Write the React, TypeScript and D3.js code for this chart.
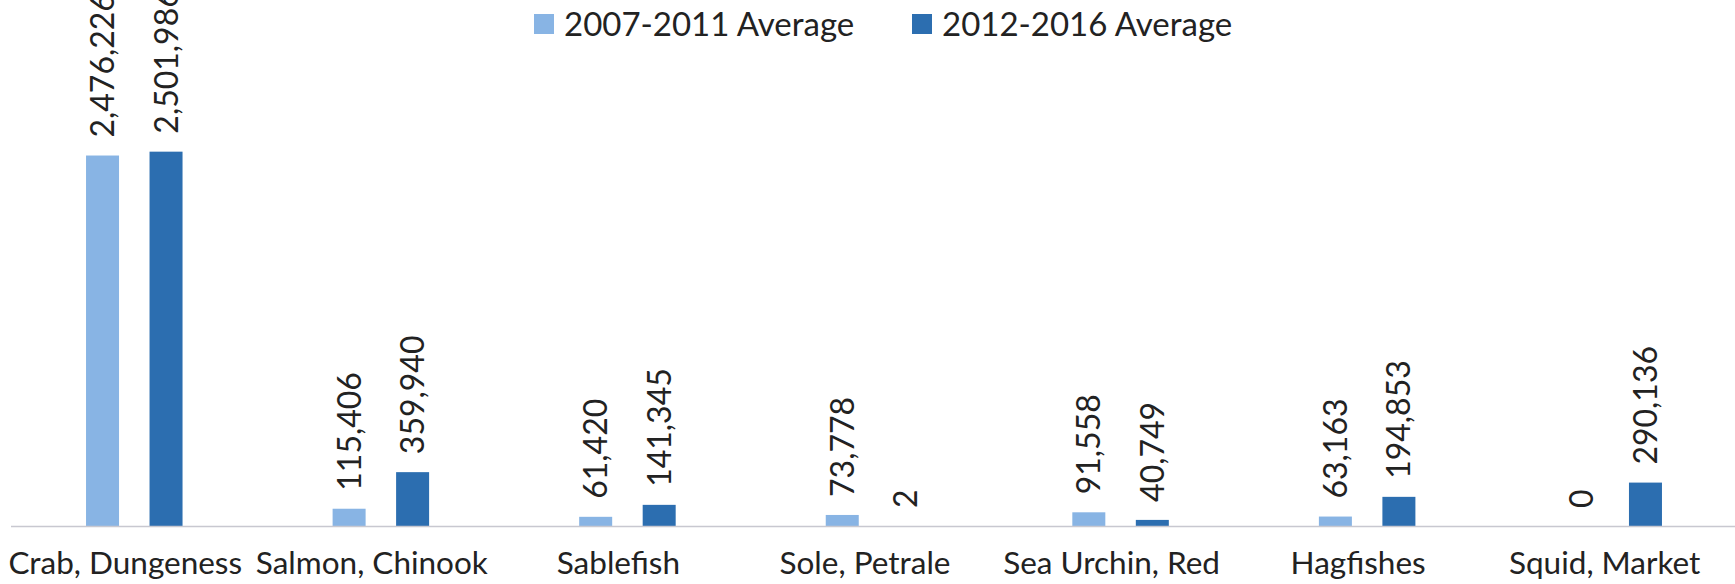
import React from "react";
import * as d3 from "d3";

const categories = [
  "Crab, Dungeness",
  "Salmon, Chinook",
  "Sablefish",
  "Sole, Petrale",
  "Sea Urchin, Red",
  "Hagfishes",
  "Squid, Market",
];
const avg2007_2011 = [2476226, 115406, 61420, 73778, 91558, 63163, 0];
const avg2012_2016 = [2501986, 359940, 141345, 2, 40749, 194853, 290136];
const seriesNames = ["2007-2011 Average", "2012-2016 Average"];
const seriesColors = ["#88B4E4", "#2C6EB0"];

const W = 1735;
const H = 584;
const FONT = "Lato, 'Open Sans', sans-serif";
const TEXT = "#222222";

export default function App() {
  const seriesValues = [avg2007_2011, avg2012_2016];
  const x0 = d3.scaleBand<string>().domain(categories).range([11, 1737]).padding(0);
  const x1 = d3.scalePoint<string>().domain(seriesNames).range([-31.75, 31.75]);
  const y = d3.scaleLinear().domain([0, 2600000]).range([526, 137]);
  const barW = 33;
  const fmt = d3.format(",");
  const legendX = [534, 912];

  return (
    <svg
      width={W}
      height={H}
      style={{ position: "absolute", left: 0, top: 0, background: "#fff" }}
      fontFamily={FONT}
    >
      <rect x={0} y={0} width={W} height={H} fill="#ffffff" />
      {/* bars */}
      {categories.map((c, i) => {
        const cx = (x0(c) as number) + x0.bandwidth() / 2;
        return (
          <g key={c}>
            {seriesNames.map((s, k) => {
              const v = seriesValues[k][i];
              const bx = cx + (x1(s) as number);
              return (
                <rect
                  key={s}
                  x={bx - barW / 2}
                  y={y(v)}
                  width={barW}
                  height={y(0) - y(v)}
                  fill={seriesColors[k]}
                />
              );
            })}
          </g>
        );
      })}
      {/* axis line */}
      <line x1={x0.range()[0]} x2={x0.range()[1]} y1={y(0) + 0.5} y2={y(0) + 0.5} stroke="#C8C8D0" strokeWidth={1.5} />
      {/* value labels */}
      {categories.map((c, i) => {
        const cx = (x0(c) as number) + x0.bandwidth() / 2;
        return seriesNames.map((s, k) => {
          const v = seriesValues[k][i];
          const bx = cx + (x1(s) as number);
          return (
            <text
              key={c + s}
              transform={`translate(${bx},${y(v) - 18}) rotate(-90)`}
              dy="0.36em"
              textAnchor="start"
              fontSize={32}
              fill={TEXT}
            >
              {fmt(v)}
            </text>
          );
        });
      })}
      {/* category labels */}
      {categories.map((c) => {
        const cx = (x0(c) as number) + x0.bandwidth() / 2;
        return (
          <text key={c} x={cx - 9} y={574} textAnchor="middle" fontSize={31.5} fill={TEXT}>
            {c}
          </text>
        );
      })}
      {/* legend */}
      {seriesNames.map((s, k) => (
        <g key={s}>
          <rect x={legendX[k]} y={14} width={20} height={20} fill={seriesColors[k]} />
          <text x={legendX[k] + 30} y={36} fontSize={33} fill={TEXT}>
            {s}
          </text>
        </g>
      ))}
    </svg>
  );
}
